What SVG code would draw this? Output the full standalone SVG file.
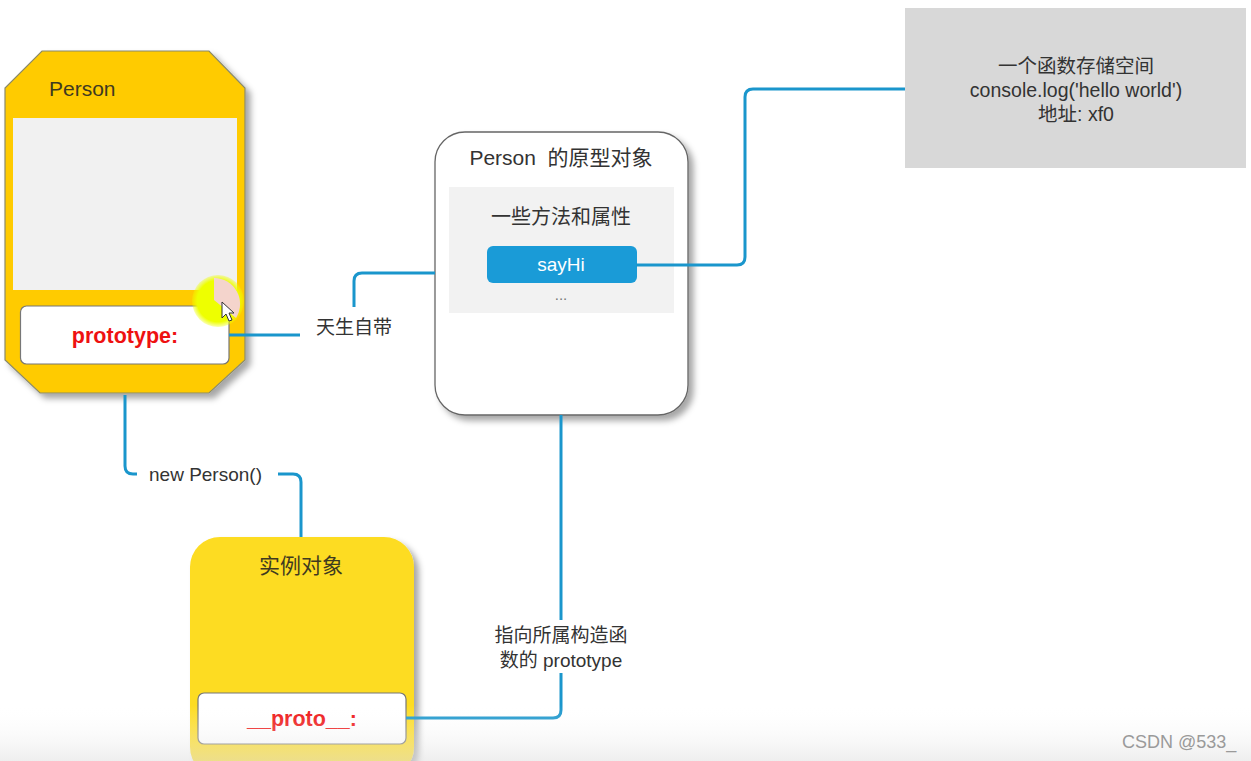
<svg xmlns="http://www.w3.org/2000/svg" width="1251" height="761" viewBox="0 0 1251 761">
<defs>
<style>
text{font-family:"Liberation Sans","Noto Sans CJK SC",sans-serif;fill:#333;}
.c{text-anchor:middle;}
.red{fill:#ee1111;font-weight:bold;font-size:21.5px;}
.conn{fill:none;stroke:#1a96cc;stroke-width:3;}
.lbl{font-size:19px;}
</style>
<filter id="sh" x="-10%" y="-10%" width="130%" height="130%">
<feDropShadow dx="5" dy="5" stdDeviation="3" flood-color="#000" flood-opacity="0.35"/>
</filter>
<linearGradient id="bot" x1="0" y1="0" x2="0" y2="1">
<stop offset="0" stop-color="#ffffff" stop-opacity="0"/>
<stop offset="1" stop-color="#e0e0e0" stop-opacity="0.55"/>
</linearGradient>
<radialGradient id="hl" cx="0.5" cy="0.5" r="0.5">
<stop offset="0.8" stop-color="#eeff00"/>
<stop offset="1" stop-color="#eeff00" stop-opacity="0.3"/>
</radialGradient>
</defs>
<rect width="1251" height="761" fill="#ffffff"/>

<g id="person">
<polygon points="42,51 209,51 245,88 245,360 209,393 40,393 5,360 5,88" fill="#ffcb00" stroke="#8a8a6a" stroke-width="1.2" filter="url(#sh)"/>
<text x="49" y="96" style="font-size:21px;fill:#3f3a20">Person</text>
<rect x="13" y="118" width="224" height="172" fill="#f1f1f1"/>
</g>

<g id="prototype-slot">
<rect x="20.5" y="306" width="208.5" height="58" rx="6" fill="#ffffff" stroke="#777" stroke-width="1.2"/>
<text class="c red" x="125" y="343">prototype:</text>
</g>

<g id="cursor-highlight">
<circle cx="218" cy="301" r="26" fill="url(#hl)"/>
<path d="M214,278 A26,26 0 0 1 236,318 L214,300 Z" fill="#f4ccf0" opacity="0.85"/>
<path d="M222,302 L222,318 L226,314 L229,321 L232,320 L229,313 L234,313 Z" fill="#fff" stroke="#333" stroke-width="1"/>
</g>

<g id="label-tiansheng">
<text class="lbl" x="316" y="334">天生自带</text>
</g>

<g id="person-prototype">
<rect x="435" y="132" width="253" height="283" rx="30" fill="#ffffff" stroke="#666" stroke-width="1.3" filter="url(#sh)"/>
<text class="c" x="561" y="165" style="font-size:21px;white-space:pre">Person  的原型对象</text>
<rect x="449" y="187" width="225" height="126" fill="#f2f2f2"/>
<text class="c" x="561" y="224" style="font-size:20px">一些方法和属性</text>
<rect x="487" y="246" width="150" height="37" rx="6" fill="#1a9bd7"/>
<text class="c" x="561" y="271" style="font-size:19px;fill:#ffffff">sayHi</text>
<text class="c" x="561" y="300" style="font-size:15px;fill:#777">...</text>
</g>

<g id="function-storage">
<rect x="905" y="8" width="341" height="160" fill="#d8d8d8"/>
<text class="c" x="1076" y="73" style="font-size:19.5px">一个函数存储空间</text>
<text class="c" x="1076" y="97" style="font-size:19.5px">console.log('hello world')</text>
<text class="c" x="1076" y="121" style="font-size:19.5px">地址: xf0</text>
</g>

<g id="label-new">
<text class="lbl" x="149" y="481">new Person()</text>
</g>

<g id="instance">
<rect x="190" y="537" width="224" height="240" rx="30" fill="#fddc24" filter="url(#sh)"/>
<text class="c" x="301" y="573" style="font-size:21px;fill:#3f3a20">实例对象</text>
<rect x="198" y="693" width="208" height="51" rx="6" fill="#ffffff" stroke="#777" stroke-width="1.2"/>
<text class="c red" x="302" y="726">__proto__:</text>
</g>

<g id="label-pointer">
<text class="c lbl" x="561" y="642">指向所属构造函</text>
<text class="c lbl" x="561" y="667">数的 prototype</text>
</g>

<g id="connectors">
<path class="conn" d="M229,335 H300"/>
<path class="conn" d="M354,307 V281 Q354,273 362,273 H435"/>
<path class="conn" d="M636,265 H737 Q745,265 745,257 V97 Q745,89 753,89 H905"/>
<path class="conn" d="M125,395 V466 Q125,474 133,474 H137"/>
<path class="conn" d="M278,474 H293 Q301,474 301,482 V537"/>
<path class="conn" d="M561,415 V620"/>
<path class="conn" d="M561,673 V710 Q561,718 553,718 H406"/>
</g>

<rect x="0" y="705" width="1251" height="56" fill="url(#bot)"/>
<text x="1122" y="748" style="font-size:18px;fill:#9a9a9a">CSDN @533_</text>
</svg>
